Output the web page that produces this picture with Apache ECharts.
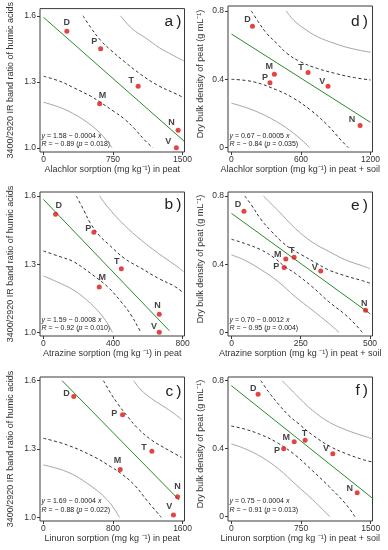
<!DOCTYPE html>
<html><head><meta charset="utf-8">
<script src="https://cdn.jsdelivr.net/npm/echarts@6/dist/echarts.min.js"></script>
<style>html,body{margin:0;padding:0;background:#fff}#c{width:388px;height:550px}</style>
</head><body><div id="c"></div>
<script>
// ---------- data ----------
const xTicksA = [0, 750, 1500];
const xTicksB = [0, 400, 800];
const xTicksC = [0, 800, 1600];
const xTicksD = [0, 600, 1200];
const xTicksE = [0, 250, 500];
const xTicksF = [0, 750, 1500];
const yTicksRatio = [1.0, 1.3, 1.6];
const yTicksDensity = [0, 0.4, 0.8];

const aNames = ['D','P','T','M','N','V'];
const aX = [252, 617, 1022, 606, 1453, 1434];
const aY = [1.53, 1.45, 1.28, 1.20, 1.08, 1.00];
const aFit = [[0, 1.593], [1518, 1.030]];
const aCiUpper = [[427,1.6],[507,1.548],[617,1.488],[726,1.444],[872,1.392],[1055,1.332],[1237,1.283],[1420,1.247],[1511,1.228]];
const aCiLower = [[0,1.325],[179,1.302],[325,1.273],[507,1.235],[606,1.209],[763,1.164],[872,1.131],[982,1.087],[1091,1.035],[1180,1.0]];
const aPiUpper = [[830,1.6],[960,1.54],[1100,1.50],[1250,1.455],[1400,1.42],[1515,1.395]];
const aPiLower = [[0,1.207],[179,1.183],[325,1.154],[471,1.116],[617,1.064],[740,1.0]];

const bNames = ['D','P','T','M','N','V'];
const bX = [70, 290, 448, 321, 666, 666];
const bY = [1.52, 1.44, 1.28, 1.20, 1.08, 1.00];
const bFit = [[0, 1.585], [724, 1.007]];
const bCiUpper = [[189,1.6],[232,1.538],[270,1.480],[319,1.428],[368,1.392],[465,1.326],[562,1.282],[660,1.238],[757,1.201],[806,1.172]];
const bCiLower = [[0,1.358],[95,1.333],[173,1.311],[270,1.260],[368,1.201],[446,1.135],[504,1.076],[553,1.010],[560,1.0]];
const bPiUpper = [[323,1.6],[368,1.553],[465,1.472],[562,1.406],[660,1.348],[757,1.296],[806,1.267]];
const bPiLower = [[0,1.248],[76,1.223],[173,1.186],[270,1.128],[348,1.062],[397,1.0]];

const cNames = ['D','P','T','M','N','V'];
const cX = [349, 910, 1247, 883, 1542, 1495];
const cY = [1.53, 1.45, 1.29, 1.21, 1.09, 1.01];
const cFit = [[215, 1.6], [1561, 1.076]];
const cCiUpper = [[690,1.6],[775,1.544],[852,1.500],[969,1.442],[1085,1.391],[1240,1.340],[1433,1.296],[1588,1.263]];
const cCiLower = [[0,1.347],[271,1.318],[581,1.266],[775,1.222],[891,1.193],[1046,1.142],[1201,1.069],[1356,1.0]];
const cPiUpper = [[1038,1.6],[1123,1.559],[1240,1.522],[1356,1.493],[1472,1.464],[1588,1.430]];
const cPiLower = [[0,1.230],[271,1.200],[504,1.149],[736,1.076],[875,1.0]];

const dNames = ['D','M','P','T','V','N'];
const dX = [181, 370, 332, 661, 833, 1110];
const dY = [0.71, 0.43, 0.38, 0.44, 0.36, 0.13];
const dExtra = [[201, 0.669]];
const dFit = [[0, 0.665], [1200, 0.148]];
const dCiUpper = [[172,0.8],[230,0.738],[303,0.669],[390,0.611],[478,0.552],[594,0.503],[740,0.464],[915,0.431],[1060,0.410],[1200,0.396]];
const dCiLower = [[0,0.400],[186,0.386],[390,0.338],[536,0.289],[682,0.220],[827,0.133],[944,0.045],[1008,0.0]];
const dPiUpper = [[472,0.8],[536,0.747],[623,0.699],[740,0.650],[885,0.611],[1031,0.581],[1200,0.558]];
const dPiLower = [[0,0.260],[186,0.220],[390,0.152],[536,0.084],[652,0.016],[672,0.0]];

const eNames = ['D','M','T','P','V','N'];
const eX = [45, 196, 226, 190, 322, 484];
const eY = [0.71, 0.43, 0.44, 0.38, 0.36, 0.13];
const eFit = [[0, 0.698], [501, 0.108]];
const eCiUpper = [[48,0.8],[72,0.747],[108,0.659],[145,0.591],[181,0.532],[218,0.487],[254,0.454],[303,0.409],[351,0.366],[412,0.331],[473,0.303],[501,0.288]];
const eCiLower = [[0,0.546],[47,0.522],[108,0.483],[157,0.434],[193,0.385],[230,0.346],[291,0.268],[351,0.180],[412,0.102],[449,0.043],[472,0.0]];
const ePiUpper = [[115,0.8],[169,0.713],[230,0.61],[291,0.53],[351,0.475],[412,0.425],[473,0.39],[501,0.373]];
const ePiLower = [[0,0.454],[47,0.424],[108,0.366],[169,0.297],[230,0.209],[291,0.131],[351,0.053],[388,0.0]];

const fNames = ['D','M','T','P','V','N'];
const fX = [288, 677, 794, 564, 1092, 1354];
const fY = [0.72, 0.44, 0.45, 0.40, 0.37, 0.14];
const fFit = [[0, 0.771], [1529, 0.104]];
const fCiUpper = [[318,0.8],[400,0.735],[510,0.66],[619,0.595],[728,0.545],[874,0.48],[1056,0.415],[1238,0.37],[1420,0.335],[1529,0.32]];
const fCiLower = [[0,0.533],[146,0.515],[328,0.48],[510,0.43],[692,0.36],[874,0.27],[1056,0.175],[1238,0.07],[1330,0.0]];
const fPiUpper = [[548,0.8],[692,0.72],[874,0.625],[1056,0.555],[1238,0.51],[1420,0.475],[1529,0.457]];
const fPiLower = [[0,0.428],[146,0.40],[328,0.35],[510,0.28],[692,0.19],[874,0.10],[1060,0.0]];

const eqTexts = {
  a: ['1.58 − 0.0004', '− 0.89', '0.018'],
  b: ['1.59 − 0.0008', '− 0.92', '0.010'],
  c: ['1.69 − 0.0004', '− 0.88', '0.022'],
  d: ['0.67 − 0.0005', '− 0.84', '0.035'],
  e: ['0.70 − 0.0012', '− 0.95', '0.004'],
  f: ['0.75 − 0.0004', '− 0.91', '0.013']
};
const yNameRatio = '3400/2920 IR band ratio of humic acids';
const yNameDensity = 'Dry bulk density of peat (g mL⁻¹)';
const xNames = {
  a: 'Alachlor sorption (mg kg⁻¹) in peat',
  b: 'Atrazine sorption (mg kg ⁻¹) in peat',
  c: 'Linuron sorption (mg kg ⁻¹) in peat',
  d: 'Alachlor sorption (mg kg⁻¹) in peat + soil',
  e: 'Atrazine sorption (mg kg ⁻¹) in peat + soil',
  f: 'Linuron sorption (mg kg ⁻¹) in peat + soil'
};

// ---------- styles / layout ----------
const F = "'Liberation Sans',Arial,sans-serif";
const TXT = '#333';
const labelOffsets = {
  a: [[0,-9],[-6.5,-7.7],[-7,-5.7],[2.8,-7.8],[-6.5,-8],[-8,-6.5]],
  b: [[3.3,-9],[-5.7,-4.3],[-4.5,-7],[3,-9],[-1.7,-8.7],[-5.3,-6]],
  c: [[-7.3,-2.7],[-8.3,-1.7],[-8,-3.7],[-2.7,-9],[0,-10],[-4.3,-8.7]],
  d: [[-5,-6.7],[-5,-7.3],[-5,-5],[-7,-4.7],[-5.7,-4.3],[-8,-5.7]],
  e: [[-6,-6.7],[-8,-4.3],[-2.3,-7],[-8,-1],[-6,-3],[-1.3,-7]],
  f: [[-4.7,-6],[-8,-4],[-0.7,-7],[-6.7,1.7],[-6.7,-5.3],[-7.3,-4.7]]
};

const panels = [
  {k:'a', grid:{left:40, top:6, width:144.5, height:146}, xr:[-38,1522], yr:[0.9807,1.6327], xt:xTicksA, yt:yTicksRatio, side:'L',
   names:aNames, x:aX, y:aY, fit:aFit, ciU:aCiUpper, ciL:aCiLower, piU:aPiUpper, piL:aPiLower, letter:[181.5,22]},
  {k:'d', grid:{left:228, top:6, width:144.5, height:146}, xr:[-30,1217], yr:[-0.0254,0.829], xt:xTicksD, yt:yTicksDensity, side:'R',
   names:dNames, x:dX, y:dY, fit:dFit, ciU:dCiUpper, ciL:dCiLower, piU:dPiUpper, piL:dPiLower, letter:[368,22]},
  {k:'b', grid:{left:40, top:192, width:144.5, height:144}, xr:[-19.5,811], yr:[0.9838,1.6176], xt:xTicksB, yt:yTicksRatio, side:'L',
   names:bNames, x:bX, y:bY, fit:bFit, ciU:bCiUpper, ciL:bCiLower, piU:bPiUpper, piL:bPiLower, letter:[181.5,205]},
  {k:'e', grid:{left:228, top:192, width:144.5, height:144}, xr:[-12.6,509], yr:[-0.0215,0.8235], xt:xTicksE, yt:yTicksDensity, side:'R',
   names:eNames, x:eX, y:eY, fit:eFit, ciU:eCiUpper, ciL:eCiLower, piU:ePiUpper, piL:ePiLower, letter:[368,206]},
  {k:'c', grid:{left:40, top:377, width:144.5, height:144}, xr:[-39,1622], yr:[0.9839,1.6161], xt:xTicksC, yt:yTicksRatio, side:'L',
   names:cNames, x:cX, y:cY, fit:cFit, ciU:cCiUpper, ciL:cCiLower, piU:cPiUpper, piL:cPiLower, letter:[181.5,391.5]},
  {k:'f', grid:{left:228, top:377, width:144.5, height:144}, xr:[-35.5,1519], yr:[-0.0255,0.8216], xt:xTicksF, yt:yTicksDensity, side:'R',
   names:fNames, x:fX, y:fY, fit:fFit, ciU:fCiUpper, ciL:fCiLower, piU:fPiUpper, piL:fPiLower, letter:[368,391]}
];

const grids = [], xAxes = [], yAxes = [], series = [], graphics = [];
panels.forEach((p, i) => {
  grids.push(Object.assign({show:true, borderColor:'#3a3a3a', borderWidth:1, backgroundColor:'transparent'}, p.grid));
  xAxes.push({
    type:'value', gridIndex:i, min:p.xr[0], max:p.xr[1],
    axisLine:{show:false, onZero:false},
    axisTick:{show:true, length:3, lineStyle:{color:'#3a3a3a'}, customValues:p.xt},
    axisLabel:{customValues:p.xt, fontSize:8.5, color:TXT, fontFamily:F, margin:3.5,
      formatter: v => String(Math.round(v))},
    splitLine:{show:false},
    name:xNames[p.k], nameLocation:'middle', nameGap:13,
    nameTextStyle:{fontSize:9, color:TXT, fontFamily:F}
  });
  yAxes.push({
    type:'value', gridIndex:i, min:p.yr[0], max:p.yr[1],
    axisLine:{show:false, onZero:false},
    axisTick:{show:true, length:3, lineStyle:{color:'#3a3a3a'}, customValues:p.yt},
    axisLabel:{customValues:p.yt, fontSize:8.5, color:TXT, fontFamily:F, margin:4,
      formatter: v => (p.side === 'R' && Math.abs(v) < 1e-9) ? '0' : Number(v).toFixed(1)},
    splitLine:{show:false},
    name: p.side === 'L' ? yNameRatio : yNameDensity, nameLocation:'middle',
    nameGap: p.side === 'L' ? 25 : 23,
    nameTextStyle: p.side === 'L'
      ? {fontSize:9, color:TXT, fontFamily:F}
      : {fontSize:9, color:TXT, fontFamily:F, padding:[0,0,0,10]}
  });
  const lineCommon = {xAxisIndex:i, yAxisIndex:i, type:'line', symbol:'none', showSymbol:false, silent:true, animation:false, clip:true};
  series.push(Object.assign({}, lineCommon, {data:p.piU, smooth:0.4, lineStyle:{color:'#a6a6a6', width:1}, z:2}));
  series.push(Object.assign({}, lineCommon, {data:p.piL, smooth:0.4, lineStyle:{color:'#a6a6a6', width:1}, z:2}));
  series.push(Object.assign({}, lineCommon, {data:p.ciU, smooth:0.4, lineStyle:{color:'#333', width:1, type:[3,2.5]}, z:3}));
  series.push(Object.assign({}, lineCommon, {data:p.ciL, smooth:0.4, lineStyle:{color:'#333', width:1, type:[3,2.5]}, z:3}));
  series.push(Object.assign({}, lineCommon, {data:p.fit, lineStyle:{color:'#2a8a2a', width:1}, z:4}));
  const offs = labelOffsets[p.k];
  series.push({
    type:'scatter', xAxisIndex:i, yAxisIndex:i, symbol:'circle', symbolSize:5, silent:true, animation:false, z:5,
    itemStyle:{color:'#dd1414'},
    label:{show:true, position:'inside', formatter:'{b}', fontSize:9, fontWeight:'bold', color:'#111', fontFamily:F},
    data: p.x.map((xv, j) => ({name:p.names[j], value:[xv, p.y[j]], label:{offset:offs[j]}}))
  });
  if (p.k === 'd') {
    series.push({
      type:'scatter', xAxisIndex:i, yAxisIndex:i, symbol:'none', silent:true, animation:false, z:5,
      label:{show:true, position:'inside', formatter:'o', fontSize:9, color:'#222', fontFamily:"'Liberation Serif',serif"},
      data: dExtra.map(v => ({value:v}))
    });
  }
  const eq = eqTexts[p.k];
  const bottom = p.grid.top + p.grid.height;
  const row3 = p.grid.top > 300;
  const y1 = bottom - (row3 ? 19.5 : 16), y2 = bottom - (row3 ? 11 : 8);
  const gx = p.grid.left + 1.5;
  const rich = {i:{fontStyle:'italic', fontSize:7, fontFamily:F, fill:'#222'}, n:{fontSize:7, fontFamily:F, fill:'#222'}};
  graphics.push({type:'text', x:gx, y:y1, silent:true,
    style:{text:'{i|y}{n| = ' + eq[0] + ' }{i|x}', rich, fontSize:7, fontFamily:F, fill:'#222', verticalAlign:'middle'}});
  graphics.push({type:'text', x:gx, y:y2, silent:true,
    style:{text:'{i|R}{n| = ' + eq[1] + ' (}{i|p}{n| = ' + eq[2] + ')}', rich, fontSize:7, fontFamily:F, fill:'#222', verticalAlign:'middle'}});
  graphics.push({type:'text', x:p.letter[0], y:p.letter[1], silent:true,
    style:{text:p.k + '\u2009)', fontSize:15.5, fontFamily:F, fill:'#222', align:'right', verticalAlign:'middle'}});
});

const chart = echarts.init(document.getElementById('c'), null, {renderer:'canvas'});
chart.setOption({
  animation:false,
  backgroundColor:'#fff',
  grid:grids, xAxis:xAxes, yAxis:yAxes, series:series, graphic:graphics
});
</script>
</body></html>
